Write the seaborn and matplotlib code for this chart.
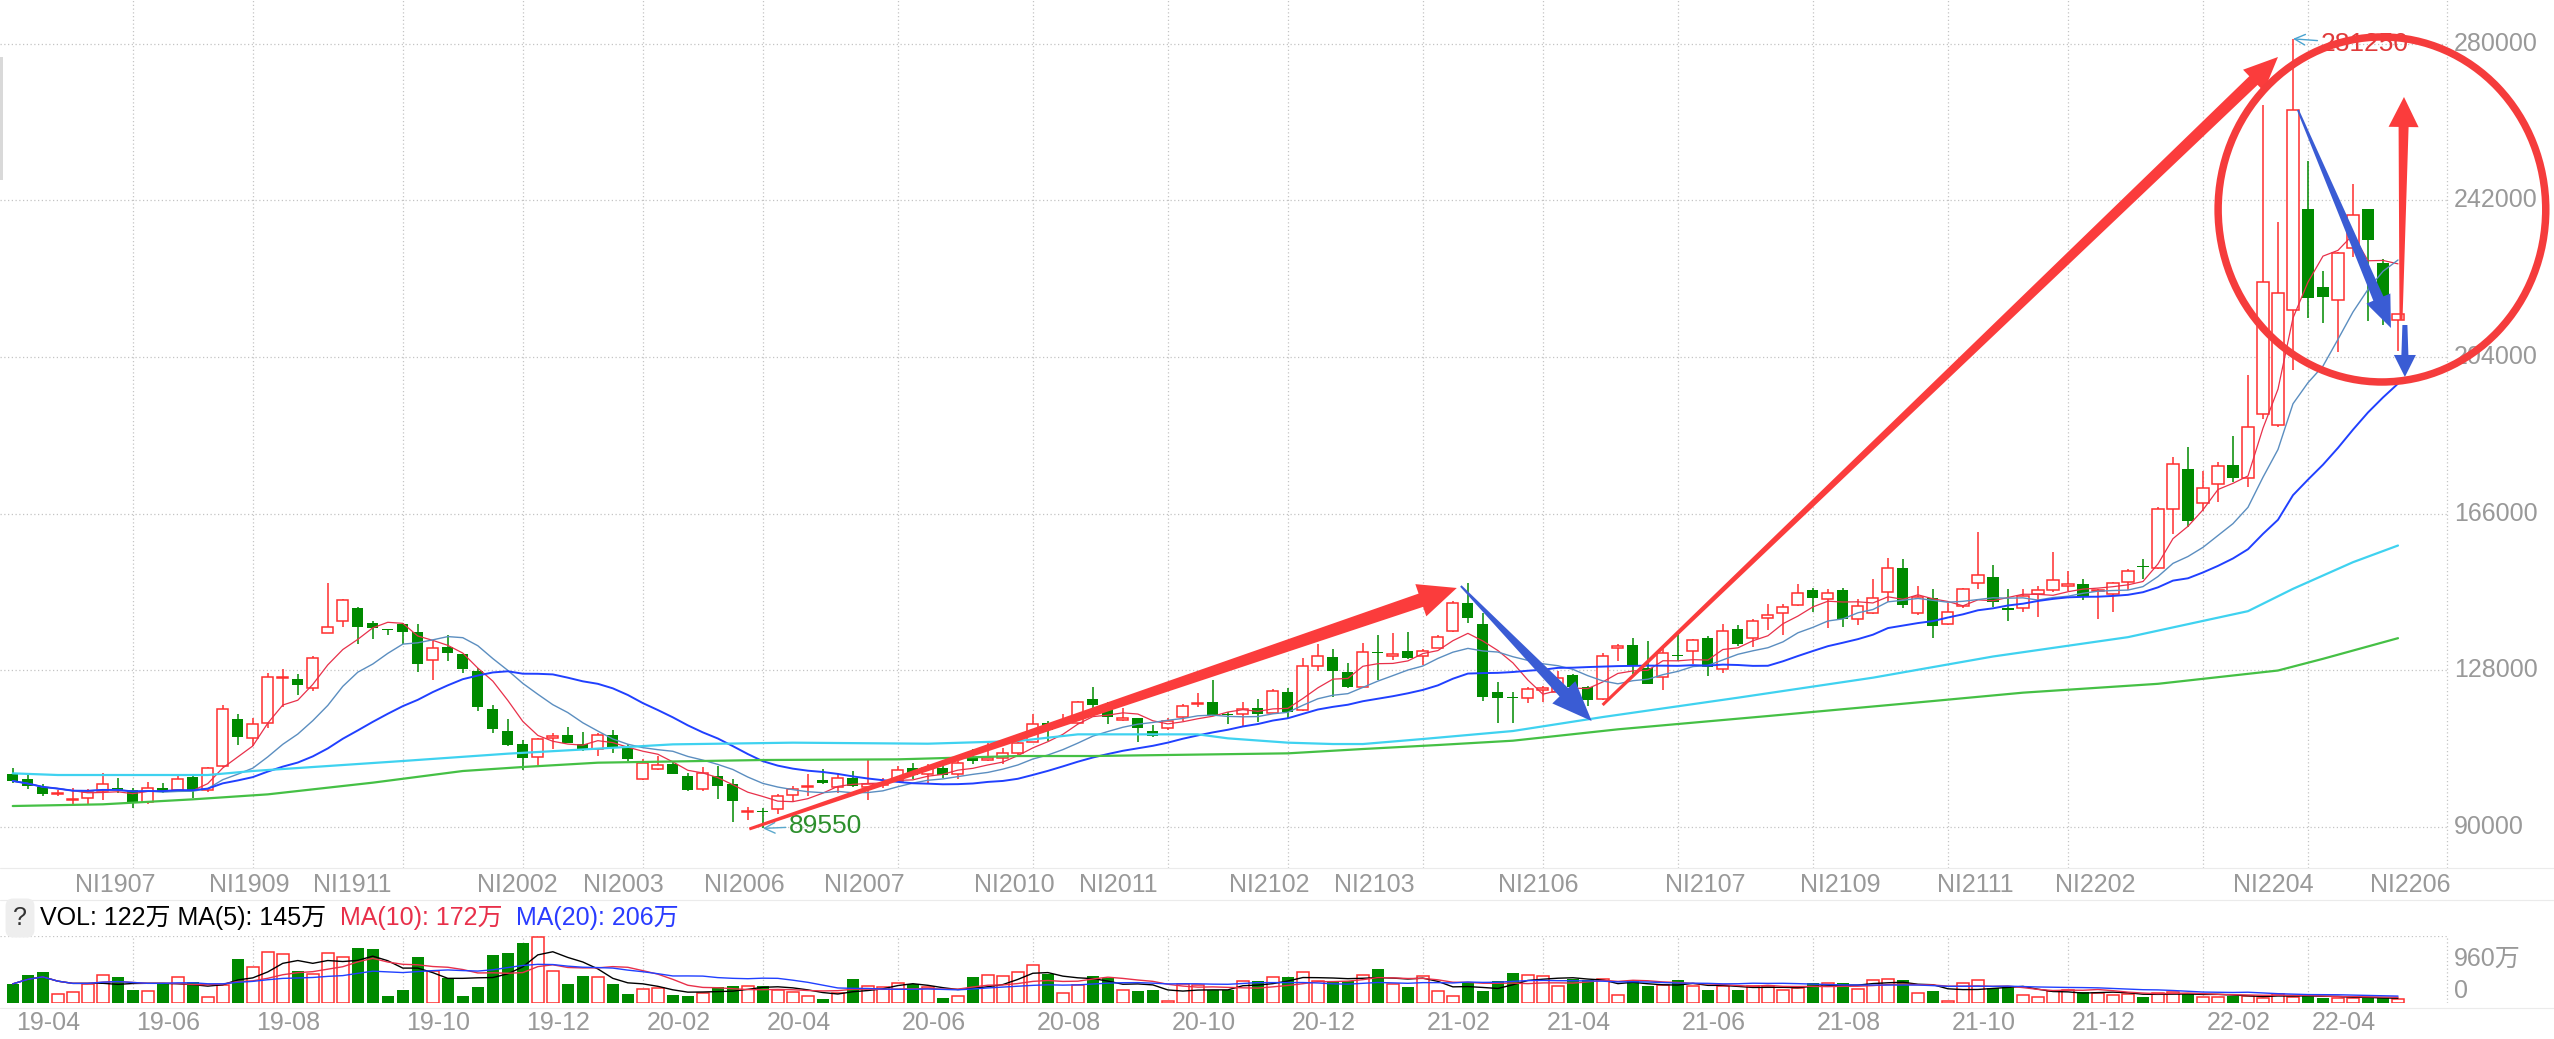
import numpy as np
import pandas as pd
import seaborn as sns
import matplotlib.pyplot as plt
import matplotlib.transforms as mtransforms
from matplotlib.patches import Polygon, Ellipse, Rectangle
from matplotlib.lines import Line2D

sns.set_style('white')
plt.rcParams['font.family'] = ['Liberation Sans', 'Noto Sans CJK SC', 'DejaVu Sans']

# weekly NI candles, 2019-04 .. 2022-04
opens = [102670, 101460, 99590, 97810, 96520, 97000, 98620, 99430, 98870, 96030,
         99270, 98780, 102020, 98780, 104690, 116180, 111410, 115050, 125980, 125730,
         123550, 137060, 139900, 142970, 139330, 137870, 139090, 137310, 130350, 133580,
         131800, 127760, 118450, 113190, 109950, 106880, 111570, 112140, 110110, 108900,
         112140, 109140, 101460, 103880, 105100, 102260, 99030, 102260, 100240, 93600,
         93770, 94330, 97650, 99590, 101210, 99590, 101700, 99590, 100080, 101050,
         104130, 102830, 104290, 102670, 106720, 106230, 106720, 107770, 110600, 115210,
         115050, 115050, 120960, 119500, 115910, 116270, 113270, 114000, 116670, 119660,
         120310, 117240, 117240, 118690, 117480, 122580, 118290, 128970, 131240, 127600,
         123790, 132450, 131400, 132610, 131480, 133420, 137470, 144190, 139090, 122580,
         121280, 121280, 123060, 122740, 126790, 123870, 120880, 133420, 134070, 128570,
         126300, 131560, 132610, 135690, 128160, 138040, 135690, 140710, 141920, 143780,
         147340, 145160, 147340, 140300, 141920, 147020, 152850, 141920, 145400, 139250,
         143540, 149200, 150580, 142970, 143100, 146500, 147310, 148280, 148920, 147140,
         146500, 149330, 153130, 152810, 167130, 176850, 168510, 173200, 177820, 174660,
         190040, 187490, 215420, 239870, 221080, 217840, 230390, 239870, 226900, 212990]
highs = [104290, 102670, 100240, 98780, 99430, 99030, 102910, 101860, 99430, 100890,
         100650, 102510, 102510, 104450, 119420, 117400, 116270, 127350, 128160, 127110,
         131400, 149200, 145320, 143380, 139900, 137960, 139490, 139090, 135040, 136420,
         131970, 128570, 119420, 116180, 110920, 111570, 112790, 114160, 113030, 112790,
         113350, 109950, 106310, 107120, 105910, 103070, 104450, 104690, 101460, 94740,
         94580, 97980, 99840, 102670, 103880, 102910, 103480, 106310, 101860, 104690,
         105500, 105100, 105100, 106310, 108740, 110600, 109140, 112220, 117240, 115620,
         117240, 120550, 123950, 120310, 118690, 116430, 114650, 116270, 119660, 122340,
         125570, 117880, 120310, 120960, 123390, 123550, 130830, 134230, 133100, 129620,
         134470, 136500, 136900, 137310, 133100, 136500, 144750, 149040, 141760, 125170,
         122740, 123870, 124120, 127760, 126950, 124120, 132210, 134390, 135850, 135040,
         133420, 137470, 135450, 136260, 139250, 138930, 140300, 143940, 144110, 148960,
         147990, 147590, 147830, 145160, 150010, 155110, 154870, 148390, 147590, 144350,
         147990, 161510, 153490, 147590, 147710, 148520, 156610, 152000, 150140, 147710,
         149330, 152570, 154990, 167540, 179680, 182110, 176440, 178460, 184940, 199750,
         265190, 236860, 281250, 251660, 224970, 229500, 246000, 240000, 227720, 214400]
lows = [100650, 99030, 97410, 97330, 95390, 95390, 96360, 98220, 94410, 95550,
        98220, 98620, 97000, 98460, 104450, 109710, 109550, 114000, 119020, 121930,
        122900, 137060, 138440, 134230, 135450, 136420, 134230, 127510, 125490, 130190,
        127350, 118050, 112790, 109550, 103640, 104940, 108900, 110200, 108330, 107120,
        107930, 105910, 101210, 103720, 102670, 98620, 98620, 96760, 91180, 91500,
        89550, 92960, 96200, 97410, 100240, 98220, 99590, 96360, 99430, 100890,
        101460, 100650, 101860, 101460, 105100, 105910, 105100, 107360, 110440, 110760,
        114810, 114810, 118290, 114810, 115620, 110600, 111810, 113430, 115620, 119100,
        116910, 114810, 114480, 115460, 117320, 116430, 118050, 127760, 121530, 123550,
        123550, 125570, 130500, 130670, 129210, 133260, 137310, 139330, 120470, 115050,
        115050, 119910, 120310, 122500, 122500, 119260, 120640, 130190, 126950, 124520,
        123060, 130190, 129540, 126540, 127350, 133830, 133580, 137630, 136500, 143540,
        142160, 138280, 138440, 138930, 141680, 144590, 143130, 141350, 135850, 138930,
        143130, 147590, 143300, 139900, 142050, 140990, 146900, 147140, 144880, 140430,
        142050, 147310, 150140, 152570, 161060, 162680, 166570, 168750, 173610, 172390,
        189000, 187000, 200800, 213380, 212330, 205290, 228200, 212810, 211770, 205540]
closes = [101050, 99840, 97980, 97980, 96680, 98460, 100240, 98870, 95630, 99430,
          98460, 101460, 98620, 104130, 118450, 111810, 114810, 126300, 126140, 124280,
          130990, 138520, 144910, 138520, 138280, 137710, 137230, 129540, 133260, 132210,
          128320, 119020, 113760, 109790, 106720, 111330, 111900, 110360, 108500, 112140,
          108980, 106310, 105500, 104850, 102830, 98780, 103070, 99840, 96200, 93770,
          93600, 97410, 99190, 99840, 100480, 101860, 99840, 100240, 100400, 103720,
          102430, 104290, 102510, 105500, 105910, 106550, 107770, 110360, 114890, 113430,
          115460, 120150, 119500, 116670, 116240, 114000, 111980, 115700, 119260, 119910,
          117070, 117070, 118530, 117240, 122900, 117720, 129050, 131480, 127760, 123790,
          132450, 132210, 131800, 130830, 132690, 136090, 144190, 140710, 121530, 121120,
          121120, 123310, 123550, 126140, 123870, 120640, 131400, 133830, 129130, 124680,
          132210, 131320, 135200, 128730, 137470, 134230, 139900, 141270, 143300, 146780,
          145400, 146780, 140300, 143540, 145400, 152850, 143780, 145720, 138680, 142160,
          147590, 151070, 144590, 142650, 146090, 147470, 149900, 148920, 145850, 147310,
          149170, 152160, 152970, 167130, 178060, 164140, 172150, 177650, 174660, 186960,
          222170, 219540, 263980, 218260, 218510, 229170, 238480, 232410, 218660, 214370]
# weekly volume, in 万
volumes = [570, 840, 930, 270, 320, 580, 840, 770, 400, 350,
           580, 770, 640, 180, 550, 1300, 1080, 1530, 1460, 970,
           880, 1500, 1380, 1630, 1600, 200, 400, 1380, 950, 750,
           200, 480, 1420, 1500, 1800, 1980, 950, 570, 820, 770,
           570, 280, 420, 450, 250, 220, 300, 480, 520, 520,
           520, 380, 320, 220, 120, 300, 720, 500, 480, 600,
           580, 480, 150, 200, 770, 830, 800, 920, 1120, 870,
           300, 550, 800, 750, 400, 350, 400, 50, 580, 550,
           380, 400, 670, 670, 770, 770, 920, 650, 620, 670,
           830, 1020, 580, 480, 800, 350, 200, 620, 350, 650,
           900, 850, 800, 500, 720, 700, 720, 250, 700, 500,
           550, 680, 500, 400, 500, 400, 520, 520, 400, 450,
           600, 600, 600, 420, 680, 720, 680, 300, 350, 70,
           600, 700, 450, 500, 230, 180, 350, 400, 320, 300,
           250, 260, 180, 300, 330, 280, 190, 190, 200, 220,
           160, 280, 180, 230, 150, 150, 140, 170, 140, 122]

# long averages
cyan_idx = [0, 3, 8, 13, 16, 21, 26, 33, 37, 44, 52, 61, 67, 71, 79, 81, 85, 88, 90, 94,
            100, 106, 115, 124, 132, 141, 149, 152, 156, 159]
cyan_val = [102910, 102510, 102510, 102510, 103480, 104690, 105910, 107690, 108500, 109950,
            110360, 110110, 110760, 112380, 112380, 111410, 110360, 110030, 110030, 111250,
            113190, 116590, 121280, 126140, 131280, 135980, 142290, 147710, 154180, 158230]
green_idx = [0, 6, 12, 17, 24, 30, 34, 39, 50, 59, 67, 72, 85, 90, 95, 100, 107, 117, 128,
             134, 143, 151, 154, 159]
green_val = [94980, 95390, 96600, 97810, 100650, 103480, 104450, 105500, 106150, 106310,
             107120, 107120, 107770, 108820, 109790, 110840, 113600, 116830, 120470,
             122500, 124650, 127880, 130720, 135730]

price_ticks = [90000, 128000, 166000, 204000, 242000, 280000]
month_idx = [0, 8, 16, 26, 34, 42, 50, 59, 68, 77, 85, 94, 102, 111, 120, 129, 137, 146, 153]
month_labels = ['19-04', '19-06', '19-08', '19-10', '19-12', '20-02', '20-04', '20-06', '20-08',
                '20-10', '20-12', '21-02', '21-04', '21-06', '21-08', '21-10', '21-12', '22-02', '22-04']
contract_pos = [6.81, 15.74, 22.66, 33.65, 40.71, 48.77, 56.76, 66.75, 73.68, 83.74, 90.73,
                101.7, 112.8, 121.8, 130.8, 138.8, 150.7, 159.8]
contract_labels = ['NI1907', 'NI1909', 'NI1911', 'NI2002', 'NI2003', 'NI2006', 'NI2007', 'NI2010',
                   'NI2011', 'NI2102', 'NI2103', 'NI2106', 'NI2107', 'NI2109', 'NI2111', 'NI2202',
                   'NI2204', 'NI2206']

RED = '#ff2e2e'
GRN = '#008a00'
GRAY = '#999999'
GRID = '#c4c4c4'
DOT = (0, (1, 2))
ARROW_RED = '#fb3c3c'
ARROW_BLUE = '#3a5cd4'
FS = 18

W, H = 2554, 1039
fig = plt.figure(figsize=(W / 100, H / 100), dpi=100)
ax = fig.add_axes([0, 1 - 868 / H, 2449 / W, 868 / H])
axv = fig.add_axes([0, 1 - 1003 / H, 2449 / W, 67 / H])
XLIM = (-0.85, 162.4)

df = pd.DataFrame(dict(o=opens, h=highs, l=lows, c=closes, v=volumes))
df['x'] = np.arange(len(df))
df['top'] = df[['o', 'c']].max(axis=1)
df['bot'] = df[['o', 'c']].min(axis=1)
up = df['c'] >= df['o']

# grid
for a in (ax, axv):
    for g in month_idx[1:]:
        a.axvline(g, color=GRID, lw=0.9, ls=DOT, zorder=0)
    a.axvline(162.3, color=GRID, lw=0.9, ls=DOT, zorder=0)
for p in price_ticks:
    ax.axhline(p, color=GRID, lw=0.9, ls=DOT, zorder=0)
axv.axhline(1990, color=GRID, lw=0.9, ls=DOT, zorder=0)

# candles
d = df[up]
ax.vlines(d.x, d.top, d.h, color=RED, lw=1.1, zorder=2)
ax.vlines(d.x, d.l, d.bot, color=RED, lw=1.1, zorder=2)
ax.bar(d.x, np.maximum(d.top - d.bot, 250), bottom=d.bot, width=0.74,
       facecolor='white', edgecolor=RED, linewidth=1.1, zorder=2)
d = df[~up]
ax.vlines(d.x, d.l, d.h, color=GRN, lw=1.1, zorder=2)
ax.bar(d.x, np.maximum(d.top - d.bot, 250), bottom=d.bot, width=0.74,
       color=GRN, linewidth=0, zorder=2)

# moving averages
for n, col, lw in [(5, '#e8304a', 0.9), (10, '#5b8ec0', 1.0), (20, '#2040ff', 1.4)]:
    sns.lineplot(x=df.x, y=df.c.rolling(n, min_periods=1).mean(), ax=ax,
                 color=col, linewidth=lw, zorder=3, legend=False)
sns.lineplot(x=cyan_idx, y=cyan_val, ax=ax, color='#3fd2f0', linewidth=1.6, zorder=3, legend=False)
sns.lineplot(x=green_idx, y=green_val, ax=ax, color='#45c045', linewidth=1.6, zorder=3, legend=False)

# volume
d = df[up]
axv.bar(d.x, d.v, width=0.8, facecolor='white', edgecolor=RED, linewidth=1.1, zorder=2)
d = df[~up]
axv.bar(d.x, d.v, width=0.8, color=GRN, linewidth=0, zorder=2)
for n, col in [(5, 'black'), (10, '#e8304a'), (20, '#2040ff')]:
    sns.lineplot(x=df.x, y=df.v.rolling(n, min_periods=1).mean(), ax=axv,
                 color=col, linewidth=1.0, zorder=3, legend=False)

for a in (ax, axv):
    a.set_xlim(*XLIM)
    a.set_axis_off()
ax.set_ylim(79930, 290680)
axv.set_ylim(0, 2000)

# axis texts
tr_px = mtransforms.blended_transform_factory(fig.transFigure, ax.transData)
for p in price_ticks:
    ax.text(2454 / W, p, str(p), transform=tr_px, ha='left', va='center',
            fontsize=FS, color=GRAY, clip_on=False)
tr_vol = mtransforms.blended_transform_factory(fig.transFigure, axv.transData)
axv.text(2454 / W, 960, '960万', transform=tr_vol, ha='left', va='bottom', fontsize=FS, color=GRAY)
axv.text(2454 / W, 0, '0', transform=tr_vol, ha='left', va='bottom', fontsize=FS, color=GRAY)

tr_c = mtransforms.blended_transform_factory(ax.transData, fig.transFigure)
for pos, lab in zip(contract_pos, contract_labels):
    ax.text(pos, 1 - 885 / H, lab, transform=tr_c, ha='center', va='center', fontsize=FS, color=GRAY)
tr_m = mtransforms.blended_transform_factory(axv.transData, fig.transFigure)
for pos, lab in zip(month_idx, month_labels):
    axv.text(pos + 0.25, 1 - 1023 / H, lab, transform=tr_m, ha='left', va='center', fontsize=FS, color=GRAY)

# volume header
fig.text(20 / W, 1 - 918 / H, '?', ha='center', va='center', fontsize=FS, color='#333333',
         bbox=dict(boxstyle='round,pad=0.3', fc='#eeeeee', ec='none'))
fig.text(40 / W, 1 - 918 / H, 'VOL: 122万 MA(5): 145万', ha='left', va='center', fontsize=FS, color='black')
fig.text(340 / W, 1 - 918 / H, 'MA(10): 172万', ha='left', va='center', fontsize=FS, color='#e8304a')
fig.text(516 / W, 1 - 918 / H, 'MA(20): 206万', ha='left', va='center', fontsize=FS, color='#2a3cff')

# panel separators and left marker
for yy in (868, 900, 1008):
    fig.add_artist(Line2D([0, 1], [1 - yy / H] * 2, color='#ebebeb', lw=0.8))
fig.add_artist(Rectangle((0, 1 - 180 / H), 3 / W, 123 / H, transform=fig.transFigure,
                         facecolor='#d9d9d9', edgecolor='none'))

# extreme value labels
ax.annotate('281250', xy=(152, 281250), xytext=(153.85, 280000), color='#e03a3a', fontsize=19,
            ha='left', va='center', zorder=5,
            arrowprops=dict(arrowstyle='->', color='#4aa3d0', lw=1.0, shrinkA=0, shrinkB=0))
ax.annotate('89550', xy=(50, 89550), xytext=(51.75, 90200), color='#2d8f2d', fontsize=19,
            ha='left', va='center', zorder=5,
            arrowprops=dict(arrowstyle='->', color='#5aa8cc', lw=1.0, shrinkA=0, shrinkB=0))


def taper_arrow(a, p0, p1, w0, w1, hw, hl, color):
    s = a.transData.transform(p0)
    e = a.transData.transform(p1)
    dv = e - s
    u = dv / np.hypot(*dv)
    n = np.array([-u[1], u[0]])
    base = e - u * hl
    pts = [s + n * w0 / 2, base + n * w1 / 2, base + n * hw / 2, e,
           base - n * hw / 2, base - n * w1 / 2, s - n * w0 / 2]
    pts = a.transData.inverted().transform(np.array(pts))
    a.add_patch(Polygon(pts, closed=True, facecolor=color, edgecolor='none', zorder=6, clip_on=False))


taper_arrow(ax, (49.1, 89400), (96.26, 147920), 3, 14, 34, 38, ARROW_RED)
taper_arrow(ax, (105.98, 119510), (151.0, 276840), 3, 12, 30, 34, ARROW_RED)
taper_arrow(ax, (159.2, 212990), (159.4, 267130), 3, 10, 30, 30, ARROW_RED)
taper_arrow(ax, (96.53, 148400), (105.25, 115620), 2, 12, 32, 40, ARROW_BLUE)
taper_arrow(ax, (152.33, 263975), (158.53, 211045), 2, 11, 26, 32, ARROW_BLUE)
taper_arrow(ax, (159.46, 211770), (159.46, 199150), 5, 7, 22, 22, ARROW_BLUE)

ax.add_patch(Ellipse((157.93, 239820), 21.84, 83770, fill=False, edgecolor='#f53c3c',
                     lw=5.4, zorder=7, clip_on=False))

fig.savefig('out.png', dpi=100, facecolor='white')
